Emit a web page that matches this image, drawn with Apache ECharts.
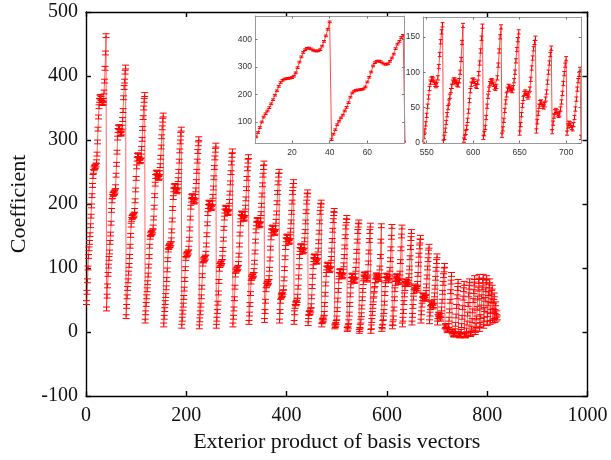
<!DOCTYPE html>
<html><head><meta charset="utf-8">
<script src="https://cdn.jsdelivr.net/npm/echarts@6/dist/echarts.min.js"></script>
<style>html,body{margin:0;padding:0;background:#fff}#c{width:611px;height:460px}</style>
</head><body><div id="c"></div>
<script>
// Coefficient values, one array per leading basis vector (i), in exterior-product order
const cycle00 = [46,62,80,100,118,130,140,152,166,181,197,213,229,243,251,255,257,258,259,261,266,278,297,317,336,352,362,367,368,365,361,358,357,358,362,375,392,412,436,463];
const cycle01 = [36,56,72,90,103,115,125,140,153,170,190,205,212,215,216,217,218,220,227,245,262,281,303,315,320,321,319,314,310,309,311,320,332,346,366,382,392,406,414];
const cycle02 = [24,40,55,68,80,92,104,118,134,151,167,176,179,180,181,182,184,190,205,222,240,258,270,276,277,275,271,267,266,268,275,287,301,318,335,350,362,371];
const cycle03 = [17,30,43,55,66,77,89,103,118,134,148,152,154,155,156,158,164,178,195,213,231,243,249,250,248,244,241,240,242,249,260,273,289,305,319,331,339];
const cycle04 = [11,23,35,46,57,69,82,97,113,128,132,134,135,136,138,144,158,175,193,210,222,228,229,227,223,220,219,221,228,238,251,267,283,297,309,317];
const cycle05 = [9,20,31,42,54,67,82,99,115,119,121,122,123,125,131,145,161,178,195,206,212,213,211,207,204,203,205,212,222,235,251,267,282,294,302];
const cycle06 = [8,19,30,42,55,70,88,106,111,113,114,115,117,123,136,152,169,185,196,202,203,201,197,194,193,195,202,212,225,241,257,272,284,292];
const cycle07 = [9,20,32,45,61,79,98,104,106,107,108,110,116,129,145,162,178,189,194,195,193,189,186,185,187,194,204,217,233,249,264,276,283];
const cycle08 = [11,23,36,52,70,89,95,97,98,99,101,107,120,136,153,169,180,185,186,184,180,177,176,178,185,195,208,224,240,255,267,274];
const cycle09 = [15,28,43,60,78,84,86,87,88,90,96,109,125,142,158,169,175,176,174,170,167,166,168,175,185,198,214,230,245,257,264];
const cycle10 = [18,32,48,66,73,75,76,77,79,85,98,114,131,147,158,163,164,162,158,155,154,156,163,173,186,202,218,233,245,251];
const cycle11 = [17,32,48,55,57,58,59,62,69,83,99,116,132,144,149,150,148,144,141,140,142,149,159,172,187,203,218,229,235];
const cycle12 = [15,30,40,44,45,46,49,56,70,86,102,118,129,134,135,133,129,126,125,127,134,144,157,172,188,203,214,219];
const cycle13 = [13,24,29,30,31,34,41,55,71,87,102,113,118,119,117,113,110,109,111,118,128,141,156,172,187,198,203];
const cycle14 = [11,16,18,19,22,29,43,59,75,90,100,105,106,104,100,97,96,98,105,115,128,143,159,174,185,190];
const cycle15 = [8,10,12,15,22,35,50,65,80,90,95,96,94,90,87,86,88,95,105,118,133,149,164,174,179];
const cycle16 = [4,6,9,16,28,43,58,72,82,88,89,87,83,80,79,81,88,98,111,126,142,157,167,172];
const cycle17 = [1,4,9,17,27,39,52,65,77,86,90,91,89,86,83,81,83,92,108,125,143,157,167];
const cycle18 = [1,8,18,29,40,50,58,66,74,80,86,89,89,87,85,83,82,88,100,118,142,166];
const cycle19 = [4,8,15,22,32,45,60,74,83,88,89,87,84,81,80,86,98,113,130,148,165];
const cycle20 = [8,13,22,36,52,66,76,84,87,88,86,83,79,77,80,92,110,130,150,164];
const cycle21 = [11,20,32,46,58,68,76,80,79,77,75,74,78,88,100,116,132,146,157];
const cycle22 = [14,26,40,53,63,70,72,70,67,65,68,76,90,106,120,133,142,148];
const cycle23 = [17,30,42,52,57,58,55,52,51,54,62,72,86,100,113,125,134];
const cycle24 = [16,28,38,44,46,44,41,39,41,48,58,70,84,98,110,119];
const cycle25 = [14,24,28,27,25,22,20,26,36,48,62,76,88,97,104];
const cycle26 = [8,10,9,6,3,2,4,10,20,33,48,63,78,90];
const cycle27 = [1,0,-2,-4,-5,-3,2,12,25,40,55,68,79];
const cycle28 = [-2,-4,-6,-6,-4,1,10,23,38,53,66,76];
const cycle29 = [-4,-6,-6,-3,3,14,28,43,58,70,80];
const cycle30 = [-3,-4,-2,6,18,33,49,63,75,85];
const cycle31 = [-1,2,10,22,37,53,67,79,87];
const cycle32 = [4,12,24,39,55,69,80,87];
const cycle33 = [9,20,35,51,66,78,85];
const cycle34 = [13,27,44,60,72,80];
const cycle35 = [15,32,49,62,70];
const cycle36 = [17,34,48,58];
const cycle37 = [18,32,44];
const cycle38 = [20,30];
const cycle39 = [22];
const errorHalf = 3;

const mainXTicks = [0,200,400,600,800,1000];
const mainYTicks = [-100,0,100,200,300,400,500];
const inset1XTicks = [20,40,60];
const inset1YTicks = [100,200,300,400];
const inset2XTicks = [550,600,650,700];
const inset2YTicks = [0,50,100,150];

const cycles = [cycle00,cycle01,cycle02,cycle03,cycle04,cycle05,cycle06,cycle07,cycle08,cycle09,
  cycle10,cycle11,cycle12,cycle13,cycle14,cycle15,cycle16,cycle17,cycle18,cycle19,
  cycle20,cycle21,cycle22,cycle23,cycle24,cycle25,cycle26,cycle27,cycle28,cycle29,
  cycle30,cycle31,cycle32,cycle33,cycle34,cycle35,cycle36,cycle37,cycle38,cycle39];

const points = [];
let n = 0;
cycles.forEach(c => c.forEach(v => { n++; points.push([n, v]); }));

const RED = '#ff0000';
function errRender(capHalf) {
  return function (params, api) {
    const x = api.value(0), v = api.value(1);
    const lo = api.coord([x, v - errorHalf]);
    const hi = api.coord([x, v + errorHalf]);
    const st = { stroke: RED, lineWidth: 1 };
    return { type: 'group', children: [
      { type: 'line', shape: { x1: lo[0], y1: lo[1], x2: hi[0], y2: hi[1] }, style: st },
      { type: 'line', shape: { x1: lo[0] - capHalf, y1: lo[1], x2: lo[0] + capHalf, y2: lo[1] }, style: st },
      { type: 'line', shape: { x1: hi[0] - capHalf, y1: hi[1], x2: hi[0] + capHalf, y2: hi[1] }, style: st }
    ]};
  };
}

const insetRanges = [
  { x: [0.4, 79.7], y: [24, 484], xt: inset1XTicks, yt: inset1YTicks },
  { x: [546, 716], y: [0, 178], xt: inset2XTicks, yt: inset2YTicks }
];

const serif = 'Liberation Serif';
const sans = 'Liberation Sans';
const plain = v => String(v);

const grids = [
  { left: 86, top: 12, width: 501.5, height: 384 },
  { left: 255, top: 16, width: 149.5, height: 127, show: true, backgroundColor: '#fff', borderWidth: 0, z: 20 },
  { left: 423, top: 17, width: 158, height: 126, show: true, backgroundColor: '#fff', borderWidth: 0, z: 20 }
];

const xAxes = [
  { gridIndex: 0, type: 'value', min: mainXTicks[0], max: mainXTicks[mainXTicks.length - 1], interval: 200, position: 'bottom',
    name: 'Exterior product of basis vectors', nameLocation: 'middle', nameGap: 31,
    nameTextStyle: { fontFamily: serif, fontSize: 22, color: '#111' },
    axisLine: { onZero: false, lineStyle: { color: '#000', width: 1.4 } },
    axisTick: { inside: true, length: 5, lineStyle: { color: '#000', width: 1.4 } },
    axisLabel: { fontFamily: serif, fontSize: 20, color: '#111', margin: 10, formatter: plain },
    splitLine: { show: false } },
  { gridIndex: 0, type: 'value', min: mainXTicks[0], max: mainXTicks[mainXTicks.length - 1], interval: 200, position: 'top',
    axisLine: { onZero: false, lineStyle: { color: '#000', width: 1.4 } },
    axisTick: { inside: true, length: 5, lineStyle: { color: '#000', width: 1.4 } },
    axisLabel: { show: false }, splitLine: { show: false } }
];
const yAxes = [
  { gridIndex: 0, type: 'value', min: mainYTicks[0], max: mainYTicks[mainYTicks.length - 1], interval: 100, position: 'left',
    name: 'Coefficient', nameLocation: 'middle', nameGap: 53, nameRotate: 90,
    nameTextStyle: { fontFamily: serif, fontSize: 22, color: '#111' },
    axisLine: { onZero: false, lineStyle: { color: '#000', width: 1.4 } },
    axisTick: { inside: true, length: 5, lineStyle: { color: '#000', width: 1.4 } },
    axisLabel: { fontFamily: serif, fontSize: 20, color: '#111', margin: 8, formatter: plain },
    splitLine: { show: false } },
  { gridIndex: 0, type: 'value', min: mainYTicks[0], max: mainYTicks[mainYTicks.length - 1], interval: 100, position: 'right',
    axisLine: { onZero: false, lineStyle: { color: '#000', width: 1.4 } },
    axisTick: { inside: true, length: 5, lineStyle: { color: '#000', width: 1.4 } },
    axisLabel: { show: false }, splitLine: { show: false } }
];

insetRanges.forEach((r, k) => {
  const g = k + 1;
  const line = { lineStyle: { color: '#999', width: 1 } };
  const tick = (vals) => ({ inside: true, length: 2.5, customValues: vals, lineStyle: { color: '#777', width: 1 } });
  xAxes.push({ gridIndex: g, type: 'value', min: r.x[0], max: r.x[1], position: 'bottom', z: 22,
    axisLine: { onZero: false, ...line }, axisTick: tick(r.xt),
    axisLabel: { customValues: r.xt, fontFamily: sans, fontSize: 8.5, color: '#333', margin: 5, formatter: plain },
    splitLine: { show: false } });
  xAxes.push({ gridIndex: g, type: 'value', min: r.x[0], max: r.x[1], position: 'top', z: 22,
    axisLine: { onZero: false, ...line }, axisTick: tick(r.xt),
    axisLabel: { show: false }, splitLine: { show: false } });
  yAxes.push({ gridIndex: g, type: 'value', min: r.y[0], max: r.y[1], position: 'left', z: 22,
    axisLine: { onZero: false, ...line }, axisTick: tick(r.yt),
    axisLabel: { customValues: r.yt, fontFamily: sans, fontSize: 8.5, color: '#333', margin: 3, formatter: plain },
    splitLine: { show: false } });
  yAxes.push({ gridIndex: g, type: 'value', min: r.y[0], max: r.y[1], position: 'right', z: 22,
    axisLine: { onZero: false, ...line }, axisTick: tick(r.yt),
    axisLabel: { show: false }, splitLine: { show: false } });
});

const series = [
  { type: 'line', xAxisIndex: 0, yAxisIndex: 0, data: points, symbol: 'none', silent: true, z: 2,
    lineStyle: { color: RED, width: 1, opacity: 0.6 } },
  { type: 'custom', xAxisIndex: 0, yAxisIndex: 0, data: points, renderItem: errRender(3.5), silent: true, z: 3 }
];
insetRanges.forEach((r, k) => {
  const xi = 2 + k * 2, yi = 2 + k * 2;
  const inside = points.filter(p => p[0] >= r.x[0] && p[0] <= r.x[1]);
  series.push({ type: 'line', xAxisIndex: xi, yAxisIndex: yi, data: points, symbol: 'none', silent: true,
    clip: true, z: 21, lineStyle: { color: RED, width: 1, opacity: 0.7 } });
  series.push({ type: 'custom', xAxisIndex: xi, yAxisIndex: yi, data: inside, renderItem: errRender(2),
    clip: true, silent: true, z: 21 });
});

const chart = echarts.init(document.getElementById('c'), null, { renderer: 'canvas' });
chart.setOption({
  animation: false,
  backgroundColor: '#fff',
  grid: grids,
  xAxis: xAxes,
  yAxis: yAxes,
  series: series
});
</script>
</body></html>
